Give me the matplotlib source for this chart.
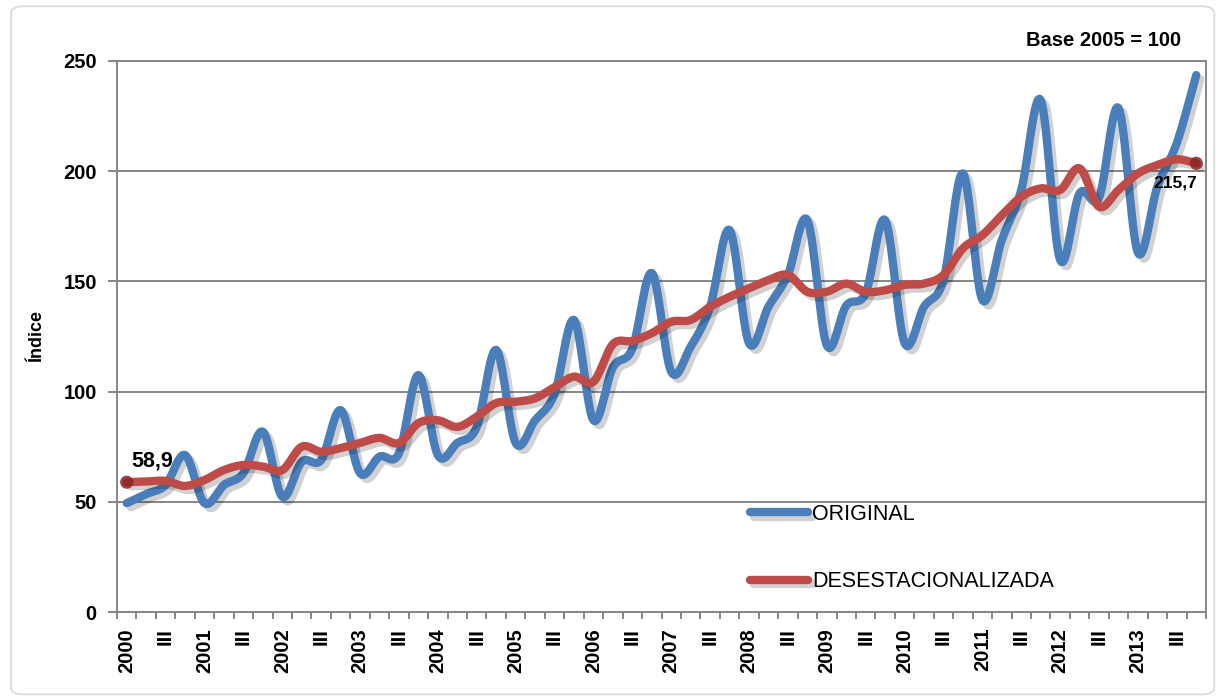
import numpy as np
import matplotlib
matplotlib.use("Agg")
import matplotlib.pyplot as plt
import matplotlib.patheffects as pe
from matplotlib.patches import FancyBboxPatch

plt.rcParams['font.family'] = ['Liberation Sans', 'DejaVu Sans']
plt.rcParams['xtick.labelsize'] = 14.5
plt.rcParams['ytick.labelsize'] = 14.5

# quarterly index, base 2005 = 100 (I..IV per year)
years = list(range(2000, 2014))
quarter_marks = ["III"]

original = [49.4, 53.5, 57.6, 71.2,     # 2000
            49.4, 57.6, 63.0, 81.8,     # 2001
            52.3, 68.2, 69.0, 91.6,     # 2002
            63.0, 70.5, 72.0, 107.5,    # 2003
            71.2, 76.7, 84.0, 118.9,    # 2004
            76.7, 87.0, 99.0, 132.5,    # 2005
            87.0, 111.0, 119.5, 153.8,  # 2006
            109.0, 120.4, 138.5, 173.3, # 2007
            122.0, 138.5, 153.0, 177.8, # 2008
            121.0, 139.0, 144.7, 177.8, # 2009
            122.0, 138.5, 150.6, 199.0, # 2010
            141.6, 168.8, 191.5, 232.3, # 2011
            159.7, 190.0, 188.0, 228.7, # 2012
            163.0, 193.0, 212.8, 243.6] # 2013

desest = [58.9, 59.2, 59.5, 57.2,
          59.9, 64.4, 66.7, 66.0,
          64.4, 75.0, 72.7, 74.4,
          76.7, 79.0, 76.7, 85.7,
          87.0, 84.0, 88.6, 94.8,
          95.4, 97.0, 102.0, 106.8,
          104.5, 121.5, 123.0, 126.5,
          131.7, 132.5, 138.5, 143.0,
          146.9, 150.6, 152.9, 145.3,
          145.3, 149.0, 145.3, 146.0,
          148.4, 149.0, 152.9, 165.0,
          171.0, 180.0, 188.4, 192.2,
          191.5, 201.3, 183.9, 191.5,
          199.0, 202.8, 205.4, 203.6]

first_label = "58,9"
last_label = "215,7"


def smooth(x, y, n=16):
    # catmull-rom curve through the points (like excel "smoothed line")
    x = np.asarray(x, float)
    y = np.asarray(y, float)
    px = np.concatenate([[2*x[0]-x[1]], x, [2*x[-1]-x[-2]]])
    py = np.concatenate([[2*y[0]-y[1]], y, [2*y[-1]-y[-2]]])
    t = np.linspace(0, 1, n, endpoint=False)
    t2 = t*t
    t3 = t2*t
    ox, oy = [], []
    for i in range(1, len(px)-2):
        for p, o in ((px, ox), (py, oy)):
            p0, p1, p2, p3 = p[i-1], p[i], p[i+1], p[i+2]
            o.extend(0.5*(2*p1 + (-p0+p2)*t + (2*p0-5*p1+4*p2-p3)*t2 + (-p0+3*p1-3*p2+p3)*t3))
    ox.append(x[-1])
    oy.append(y[-1])
    return np.array(ox), np.array(oy)


fig = plt.figure(figsize=(12.24, 7), dpi=100)
fig.patches.append(FancyBboxPatch((0.009, 0.008), 0.983, 0.983, boxstyle="round,pad=0,rounding_size=0.01",
                                  transform=fig.transFigure, facecolor="none", edgecolor="#d9d9d9", linewidth=1.2))
ax = fig.add_axes([117/1224, 1-612/700, 1089/1224, 551/700])

xi = np.arange(len(original))
shadow = [pe.SimpleLineShadow(offset=(3, -3), shadow_color="k", alpha=0.18), pe.Normal()]

sx, sy = smooth(xi, original)
ax.plot(sx, sy, color="#4a7ebb", lw=6, solid_capstyle="round", solid_joinstyle="round",
        path_effects=shadow, label="ORIGINAL", zorder=3)
sx, sy = smooth(xi, desest)
ax.plot(sx, sy, color="#be4b48", lw=6, solid_capstyle="round", solid_joinstyle="round",
        path_effects=shadow, label="DESESTACIONALIZADA", zorder=4)

ax.scatter([xi[0], xi[-1]], [desest[0], desest[-1]], s=90, color="#8e2323", alpha=0.85,
           edgecolors="none", zorder=5)

ax.annotate(first_label, (xi[0], desest[0]), xytext=(18, 15), textcoords="offset points",
            ha="center", va="center", fontsize=15.5, fontweight="bold")
ax.annotate(last_label, (xi[-1], desest[-1]), xytext=(-15, -14.5), textcoords="offset points",
            ha="center", va="center", fontsize=12.5, fontweight="bold")

ax.set_xlim(-0.5, len(original)-0.5)
ax.set_ylim(0, 250)
ax.set_yticks(np.arange(0, 251, 50))
ax.yaxis.grid(True, color="#868686", lw=1.4)
ax.set_axisbelow(True)

labels = []
for y in years:
    labels += [str(y), quarter_marks[0]]
ax.set_xticks(np.arange(-0.5, len(original), 1))
ax.set_xticks(np.arange(0, len(original), 2), minor=True)
ax.tick_params(axis="x", which="major", length=5, width=1.4, color="#868686", direction="out",
               labelbottom=False)
ax.tick_params(axis="x", which="minor", length=0, pad=11.5, labelsize=14.5, labelrotation=90)
ax.tick_params(axis="y", length=6.5, width=1.4, color="#868686", pad=8, labelsize=14.5)
ax.set_xticklabels(labels, minor=True)

for s in ax.spines.values():
    s.set_color("#868686")
    s.set_linewidth(1.4)

ax.set_ylabel("Índice", fontsize=13, fontweight="bold")
ax.yaxis.set_label_coords(-0.066, 0.5)

fig.text(1181/1224, 1-40/700, "Base 2005 = 100", ha="right", va="center", fontsize=14.5, fontweight="bold")

ax.legend(loc="upper left", bbox_to_anchor=(750/1224, 1-504/700), bbox_transform=fig.transFigure,
          frameon=False, fontsize=15.5, handlelength=2.7, handletextpad=0.2, labelspacing=2.15,
          borderpad=0, borderaxespad=0)

fig.canvas.draw()
for t in ax.get_xticklabels(minor=True) + ax.get_yticklabels():
    t.set_fontweight("bold")
    t.set_fontsize(14.5)

fig.savefig("out.png", dpi=100)
